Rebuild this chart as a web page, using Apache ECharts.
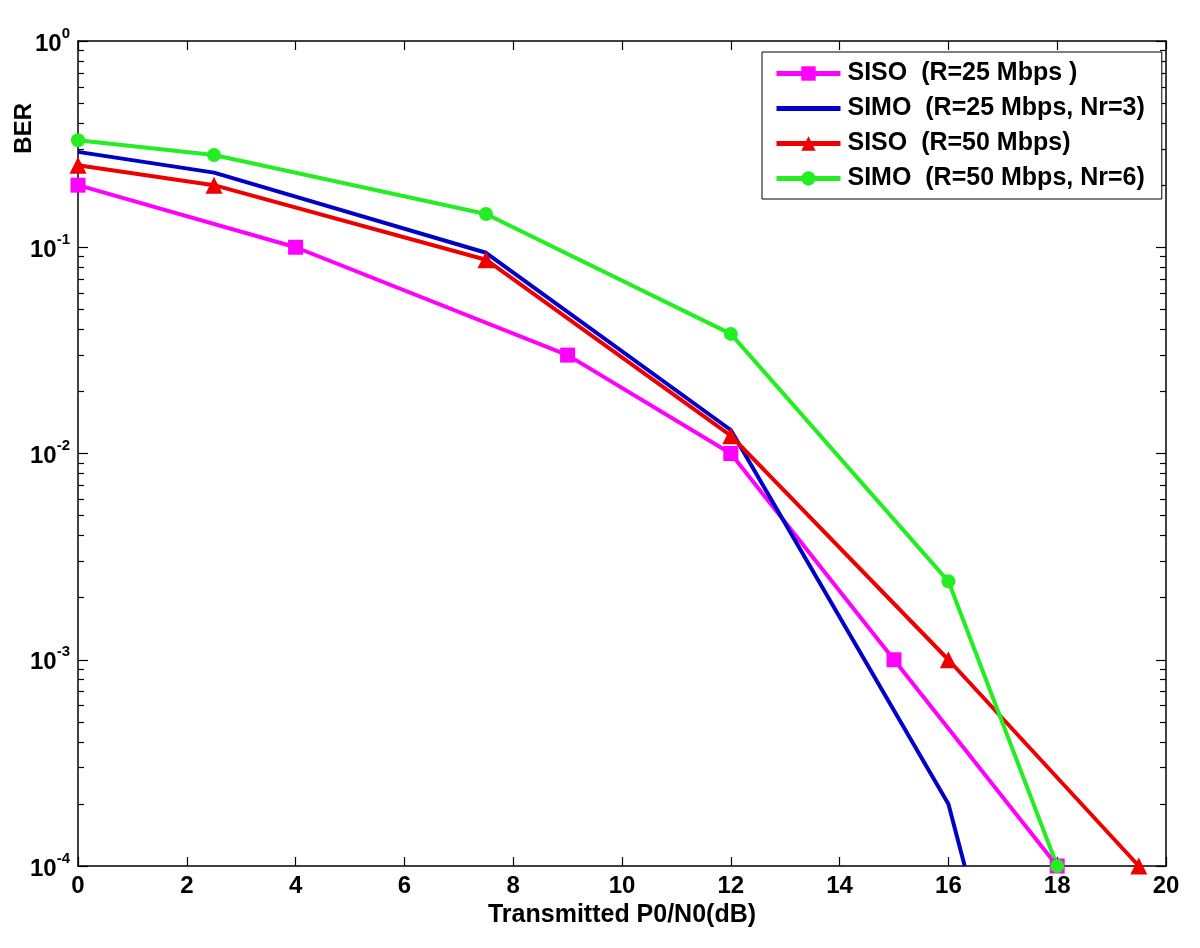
<!DOCTYPE html>
<html>
<head>
<meta charset="utf-8">
<script src="https://cdn.jsdelivr.net/npm/echarts@6/dist/echarts.min.js"></script>
<style>
html,body{margin:0;padding:0;background:#fff;}
#chart{width:1200px;height:948px;}
</style>
</head>
<body>
<div id="chart"></div>
<script>
// ---- Data ----
const sisoR25X = [0, 4, 9, 12, 15, 18];
const sisoR25Y = [0.2, 0.1, 0.03, 0.01, 0.001, 0.0001];

const simoR25X = [0, 2.5, 7.5, 12, 16, 16.3];
const simoR25Y = [0.29, 0.23, 0.094, 0.013, 0.0002, 0.0001];

const sisoR50X = [0, 2.5, 7.5, 12, 16, 19.5];
const sisoR50Y = [0.25, 0.2, 0.087, 0.0122, 0.001, 0.0001];

const simoR50X = [0, 2.5, 7.5, 12, 16, 18];
const simoR50Y = [0.33, 0.28, 0.145, 0.038, 0.0024, 0.0001];

const seriesNames = [
  'SISO  (R=25 Mbps )',
  'SIMO  (R=25 Mbps, Nr=3)',
  'SISO  (R=50 Mbps)',
  'SIMO  (R=50 Mbps, Nr=6)'
];

const xTickValues = [0, 2, 4, 6, 8, 10, 12, 14, 16, 18, 20];
const yMajorTicks = [0.0001, 0.001, 0.01, 0.1, 1];
const yMinorTicks = [];
for (let d = 0; d < yMajorTicks.length - 1; d++) {
  for (let m = 2; m <= 9; m++) yMinorTicks.push(+(yMajorTicks[d] * m).toPrecision(3));
}

const FONT = 'Liberation Sans, Arial, sans-serif';
const pairs = (xs, ys) => xs.map((x, i) => [x, ys[i]]);

const chart = echarts.init(document.getElementById('chart'), null, {renderer: 'canvas'});

const axisLineStyle = {color: '#000', width: 1.5};

function yAxisBase(position, ticks, len, showLine) {
  return {
    type: 'log', logBase: 10, min: 0.0001, max: 1, position: position,
    axisLine: {show: showLine, onZero: false, lineStyle: axisLineStyle},
    axisTick: {show: true, inside: true, length: len, customValues: ticks, lineStyle: {color: '#000', width: 1.2}},
    axisLabel: {show: false},
    splitLine: {show: false}, minorTick: {show: false}, minorSplitLine: {show: false}
  };
}

const yMain = yAxisBase('left', yMajorTicks, 10, true);
yMain.axisLabel = {
  show: true,
  customValues: yMajorTicks,
  margin: 8,
  formatter: function (v) {
    const e = Math.round(Math.log10(v));
    return '{b|10}{s|' + e + '}';
  },
  rich: {
    b: {fontSize: 24, fontFamily: FONT, fontWeight: 'bold', color: '#000', lineHeight: 30, verticalAlign: 'bottom'},
    s: {fontSize: 15, fontFamily: FONT, fontWeight: 'bold', color: '#000', verticalAlign: 'top', lineHeight: 18}
  }
};

const option = {
  animation: false,
  backgroundColor: '#fff',
  grid: {left: 78, right: 34, top: 41, bottom: 82, containLabel: false},
  xAxis: [
    {
      type: 'value', min: 0, max: 20, interval: 2, position: 'bottom',
      axisLine: {show: true, onZero: false, lineStyle: axisLineStyle},
      axisTick: {inside: true, length: 9, lineStyle: {color: '#000', width: 1.2}},
      axisLabel: {fontSize: 24, fontWeight: 'bold', color: '#000', margin: 8, fontFamily: FONT, showMinLabel: true, showMaxLabel: true},
      splitLine: {show: false},
      name: 'Transmitted P0/N0(dB)', nameLocation: 'middle', nameGap: 34,
      nameTextStyle: {fontSize: 25, fontWeight: 'bold', color: '#000', fontFamily: FONT}
    },
    {
      type: 'value', min: 0, max: 20, interval: 2, position: 'top',
      axisLine: {show: true, onZero: false, lineStyle: axisLineStyle},
      axisTick: {inside: true, length: 9, lineStyle: {color: '#000', width: 1.2}},
      axisLabel: {show: false}, splitLine: {show: false}
    }
  ],
  yAxis: [
    yMain,
    yAxisBase('left', yMinorTicks, 6, false),
    yAxisBase('right', yMajorTicks, 10, true),
    yAxisBase('right', yMinorTicks, 6, false)
  ],
  legend: {
    orient: 'vertical', left: 762, top: 52,
    data: [
      {name: seriesNames[0]},
      {name: seriesNames[1], itemStyle: {opacity: 0}},
      {name: seriesNames[2]},
      {name: seriesNames[3]}
    ],
    itemWidth: 64, itemHeight: 18, itemGap: 10,
    padding: [9, 17, 8, 12],
    borderColor: '#000', borderWidth: 1, borderRadius: 0,
    backgroundColor: '#fff',
    lineStyle: {width: 5},
    textStyle: {fontSize: 25, fontWeight: 'bold', color: '#000', fontFamily: FONT, padding: [0, 0, 0, 2]}
  },
  graphic: [{
    type: 'text', left: 12, top: 103, rotation: Math.PI / 2,
    style: {text: 'BER', fontSize: 24, fontWeight: 'bold', fontFamily: FONT, fill: '#000'}
  }],
  series: [
    {
      name: seriesNames[0], type: 'line', data: pairs(sisoR25X, sisoR25Y),
      symbol: 'rect', symbolSize: 15, color: '#ff00ff',
      lineStyle: {width: 4, color: '#ff00ff'}, itemStyle: {color: '#ff00ff'}
    },
    {
      name: seriesNames[1], type: 'line', data: pairs(simoR25X, simoR25Y),
      symbol: 'none', color: '#0000c8',
      lineStyle: {width: 4, color: '#0000c8'}, itemStyle: {color: '#0000c8'}
    },
    {
      name: seriesNames[2], type: 'line', data: pairs(sisoR50X, sisoR50Y),
      symbol: 'triangle', symbolSize: 17, color: '#ee0000',
      lineStyle: {width: 4, color: '#ee0000'}, itemStyle: {color: '#ee0000'}
    },
    {
      name: seriesNames[3], type: 'line', data: pairs(simoR50X, simoR50Y),
      symbol: 'circle', symbolSize: 14, color: '#22ee22',
      lineStyle: {width: 4, color: '#22ee22'}, itemStyle: {color: '#22ee22'}
    }
  ]
};

chart.setOption(option);
</script>
</body>
</html>
